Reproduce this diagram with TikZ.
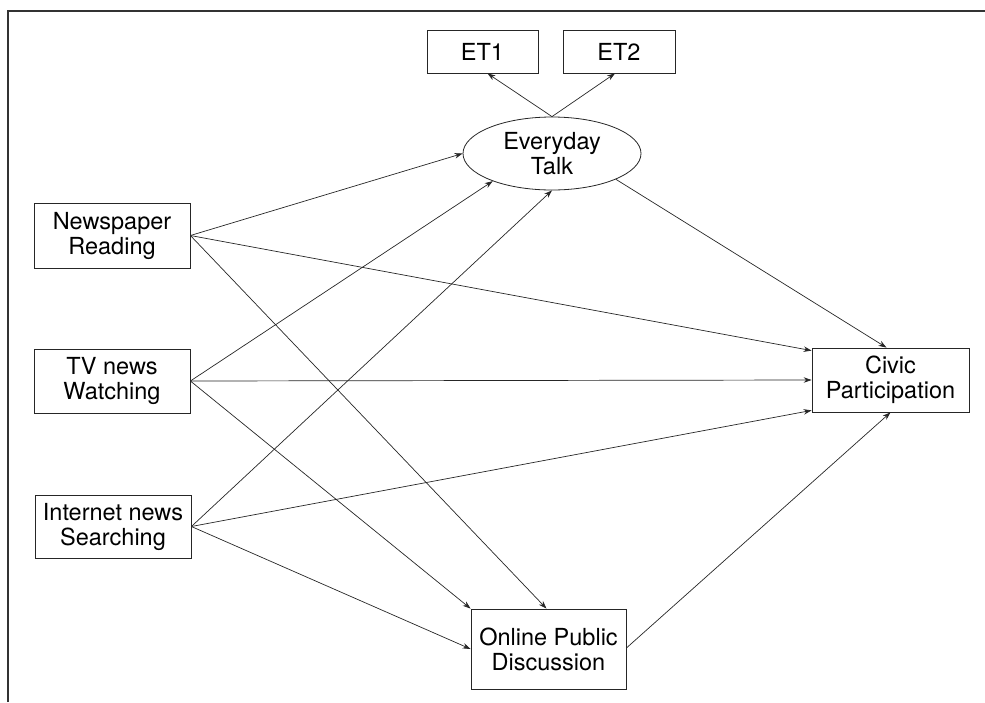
\documentclass[tikz,border=0pt]{standalone}
\usepackage{fontspec}
\setmainfont{TeX Gyre Heros}
\usetikzlibrary{shapes.geometric,arrows.meta,calc}
\begin{document}
\begin{tikzpicture}[x=1pt,y=-1pt,
  txt/.style={font=\fontsize{23.5}{25}\selectfont, align=center, inner sep=0pt},
  box/.style={txt, draw=black!85, line width=0.8pt, rectangle},
  oval/.style={txt, draw=black!85, line width=0.8pt, ellipse},
  link/.style={draw=black!85, line width=0.7pt, -{Stealth[length=8pt,width=5.5pt]}},
]
\useasboundingbox (0,0) rectangle (985,702);
\draw[line width=1.6pt, black!80] (8,702) -- (8,11) -- (985,11);

\node[box, minimum width=111pt, minimum height=43pt] (ET1) at (482.5,51.5) {ET1};
\node[box, minimum width=112pt, minimum height=43pt] (ET2) at (619,51.5) {ET2};
\node[oval, minimum width=178pt, minimum height=73pt] (ET) at (552,153.5) {Everyday\\Talk};
\node[box, minimum width=156pt, minimum height=65pt] (NR) at (112,235.5) {Newspaper\\Reading};
\node[box, minimum width=156pt, minimum height=64pt] (TV) at (112,381) {TV news\\Watching};
\node[box, minimum width=156pt, minimum height=63pt] (IN) at (113,526.5) {Internet news\\Searching};
\node[box, minimum width=155pt, minimum height=80pt] (OPD) at (548.5,649) {Online Public\\Discussion};
\node[box, minimum width=157pt, minimum height=64pt] (CP) at (890.5,380) {Civic\\Participation};

\draw[link] (ET.north) -- ([xshift=5pt]ET1.south);
\draw[link] (ET.north) -- ([xshift=-4pt]ET2.south);
\draw[link] (NR.east) -- (ET.west);
\draw[link] (NR.east) -- ([yshift=-3pt]CP.north west);
\draw[link] (NR.east) -- ([xshift=-2pt]OPD.north);
\draw[link] (TV.east) -- (ET.205);
\draw[link] (TV.east) -- (CP.west);
\draw[link] (TV.east) -- (OPD.north west);
\draw[link] (IN.east) -- (ET.south);
\draw[link] (IN.east) -- ([yshift=2pt]CP.south west);
\draw[link] (IN.east) -- (OPD.west);
\draw[link] (ET.-22) -- ([xshift=-4pt]CP.north);
\draw[link] ([yshift=1pt]OPD.east) -- (CP.south);
\end{tikzpicture}
\end{document}
